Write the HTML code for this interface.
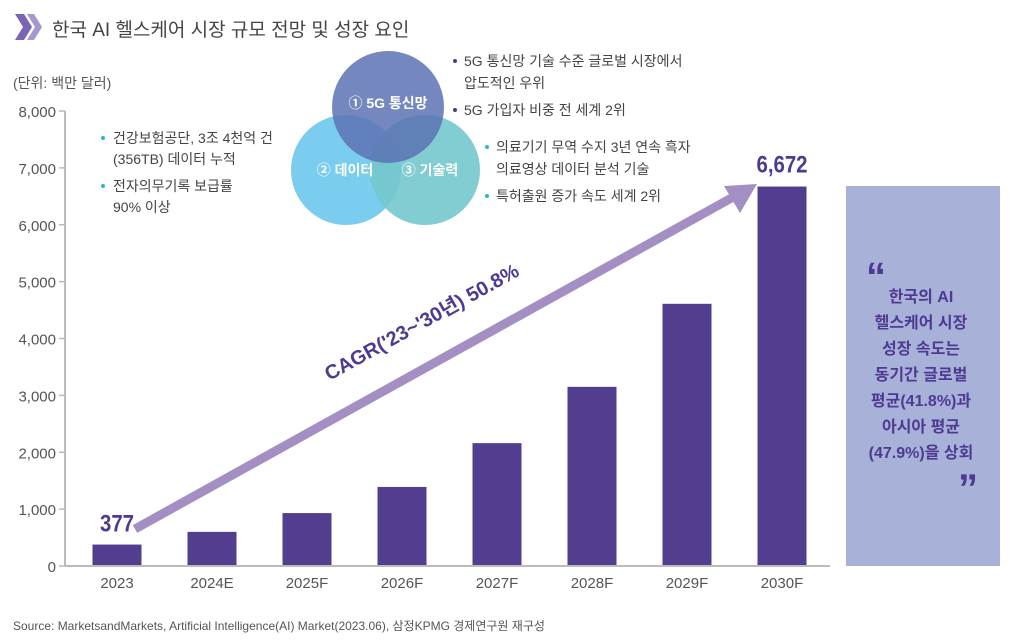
<!DOCTYPE html>
<html><head><meta charset="utf-8"><style>
body{margin:0;background:#fff;width:1011px;height:638px;overflow:hidden;font-family:"Liberation Sans","Noto Sans CJK KR",sans-serif;}
svg text{font-family:"Liberation Sans","Noto Sans CJK KR",sans-serif;}
</style></head><body>
<svg id="chart" width="1011" height="638" viewBox="0 0 1011 638" xmlns="http://www.w3.org/2000/svg">
<g>
<polygon points="15,14 24,14 32,27 24,40 15,40 23,27" fill="#7a64b4"/>
<polygon points="27,14 34,14 42,27 34,40 27,40 35,27" fill="#a796d0"/>
</g>
<text x="52" y="36" font-size="19" fill="#444">한국 AI 헬스케어 시장 규모 전망 및 성장 요인</text>
<text x="13" y="88" font-size="14" fill="#555">(단위: 백만 달러)</text>
<g id="venn">
<circle cx="346" cy="170" r="55" fill="#6cc8ec" opacity="0.9"/>
<circle cx="425" cy="170" r="55" fill="#74c8cc" opacity="0.9"/>
<circle cx="388" cy="107" r="56" fill="#5d72b4" opacity="0.85"/>
<text x="388" y="108" font-size="14" font-weight="bold" fill="#fff" text-anchor="middle">① 5G 통신망</text>
<text x="345" y="175" font-size="14" font-weight="bold" fill="#fff" text-anchor="middle">② 데이터</text>
<text x="430" y="175" font-size="14" font-weight="bold" fill="#fff" text-anchor="middle">③ 기술력</text>
</g>
<g font-size="14" fill="#444">
<circle cx="103" cy="138" r="2" fill="#2bb8c8"/><text x="113" y="143">건강보험공단, 3조 4천억 건</text>
<text x="113" y="164">(356TB) 데이터 누적</text>
<circle cx="103" cy="186" r="2" fill="#2bb8c8"/><text x="113" y="191">전자의무기록 보급률</text>
<text x="113" y="212">90% 이상</text>
</g>
<g font-size="14" fill="#444">
<circle cx="455" cy="61" r="2" fill="#4a3a8a"/><text x="464" y="66">5G 통신망 기술 수준 글로벌 시장에서</text>
<text x="464" y="88">압도적인 우위</text>
<circle cx="455" cy="110" r="2" fill="#4a3a8a"/><text x="464" y="115">5G 가입자 비중 전 세계 2위</text>
</g>
<g font-size="14" fill="#444">
<circle cx="487" cy="147" r="2" fill="#2bb8c8"/><text x="496" y="152">의료기기 무역 수지 3년 연속 흑자</text>
<text x="496" y="174">의료영상 데이터 분석 기술</text>
<circle cx="487" cy="196" r="2" fill="#2bb8c8"/><text x="496" y="201">특허출원 증가 속도 세계 2위</text>
</g>
<g id="yaxis"></g>
<g id="bars"></g>
<g id="xaxis"></g>
<g>
<line x1="135" y1="529" x2="735" y2="196" stroke="#a48fc4" stroke-width="9"/>
<polygon points="757,184 724,186 740,213" fill="#a48fc4"/>
<text x="425" y="328" font-size="20" font-weight="bold" fill="#4e3a92" text-anchor="middle" transform="rotate(-29 425 328)">CAGR('23~'30년) 50.8%</text>
</g>
<g id="labels"></g>
<g>
<rect x="846" y="186" width="154" height="380" fill="#a8b2d9"/>
<text x="866" y="290" font-size="40" font-weight="bold" fill="#4e3a92" font-family="Liberation Serif">“</text>
<g font-size="16" font-weight="bold" fill="#4e3a92" text-anchor="middle">
<text x="921" y="302">한국의 AI</text>
<text x="921" y="328">헬스케어 시장</text>
<text x="921" y="354">성장 속도는</text>
<text x="921" y="380">동기간 글로벌</text>
<text x="921" y="406">평균(41.8%)과</text>
<text x="921" y="432">아시아 평균</text>
<text x="921" y="458">(47.9%)을 상회</text>
</g>
<text x="978" y="502" font-size="40" font-weight="bold" fill="#4e3a92" text-anchor="end" font-family="Liberation Serif">”</text>
</g>
<text x="13" y="630" font-size="12" fill="#555">Source: MarketsandMarkets, Artificial Intelligence(AI) Market(2023.06), 삼정KPMG 경제연구원 재구성</text>
</svg>
<script>
const categories=["2023","2024E","2025F","2026F","2027F","2028F","2029F","2030F"];
const values=[377,600,930,1390,2160,3150,4610,6672];
const yTicks=[0,1000,2000,3000,4000,5000,6000,7000,8000];
const yTickLabels=["0","1,000","2,000","3,000","4,000","5,000","6,000","7,000","8,000"];
const shownLabels={0:"377",7:"6,672"};
const NS="http://www.w3.org/2000/svg";
const y0=566,yTop=111,yMax=8000,step=95,firstC=117,bw=49;
const y=v=>y0-(v/yMax)*(y0-yTop);
const x=i=>firstC+i*step;
function mk(t,a,p){const e=document.createElementNS(NS,t);for(const k in a)e.setAttribute(k,a[k]);p.appendChild(e);return e;}
const ya=document.getElementById('yaxis'),xa=document.getElementById('xaxis'),bg=document.getElementById('bars'),lg=document.getElementById('labels');
mk('line',{x1:65,y1:y(yMax),x2:65,y2:y0,stroke:'#bbb','stroke-width':2},ya);
yTicks.forEach((t,i)=>{
 const l=mk('line',{x1:59,x2:65,y1:y(t),y2:y(t),stroke:'#bbb','stroke-width':1.5},ya);
 
 
 const tx=mk('text',{x:56,y:y(t)+6,'font-size':15,fill:'#555','text-anchor':'end'},ya);
 tx.textContent=yTickLabels[i];
 
 
});
mk('line',{x1:65,y1:y0,x2:830,y2:y0,stroke:'#bbb','stroke-width':2},xa);
categories.forEach((c,i)=>{
 const r=mk('rect',{x:x(i)-bw/2,y:y(values[i]),width:bw,height:y0-y(values[i]),fill:'#533d8e'},bg);
 
 
 const t=mk('text',{x:x(i),y:588,'font-size':15,fill:'#555','text-anchor':'middle'},xa);
 t.textContent=c;
 
 
 if(shownLabels[i]){
  const v=mk('text',{x:x(i),y:y(values[i])-(i==0?13:14),'font-size':24,'font-weight':'bold',fill:'#4e3a92','text-anchor':'middle',transform:`scale(0.85,1) translate(${x(i)*(1/0.85-1)},0)`},lg);
  v.textContent=shownLabels[i];
  
  
 }
});
</script>
</body></html>
